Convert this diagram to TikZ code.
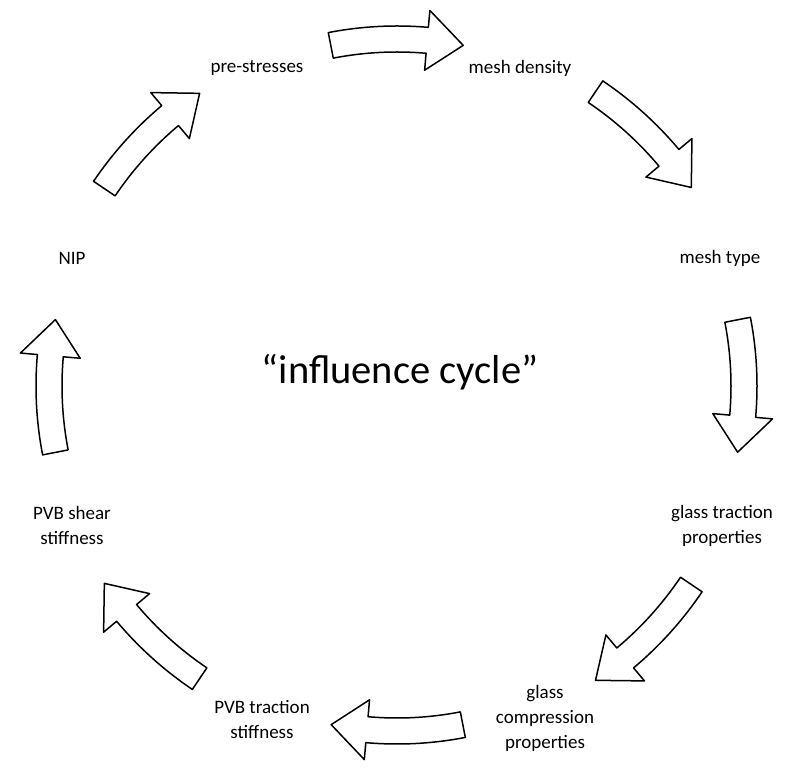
\documentclass[tikz,border=0pt]{standalone}
\usepackage{fontspec}
\setmainfont{Carlito}
\usetikzlibrary{calc}

% ring of block arrows: shaft and head half widths, head length (deg)
\def\wshaft{13}
\def\whead{30}
\def\lhead{6}

% #1 = tail angle, #2 = tip angle (clockwise), #3 = mid radius
\newcommand{\cyclearrow}[3]{%
	\draw[blockarrow] ($(cen)+(#1:#3+\wshaft)$)
		arc[start angle=#1, end angle=#2+\lhead, radius=#3+\wshaft]
		-- ($(cen)+(#2+\lhead:#3+\whead)$)
		-- ($(cen)+(#2:#3)$)
		-- ($(cen)+(#2+\lhead:#3-\whead)$)
		-- ($(cen)+(#2+\lhead:#3-\wshaft)$)
		arc[start angle=#2+\lhead, end angle=#1, radius=#3-\wshaft]
		-- cycle;}

\begin{document}
\begin{tikzpicture}[x=1pt, y=1pt,
		blockarrow/.style={draw=black, fill=white, line width=1.5, line join=round},
		lbl/.style={align=center, inner sep=0, font=\fontsize{19}{25}\selectfont},
	]
	\useasboundingbox (0,0) rectangle (795,768);

	\coordinate (cen) at (397,382);

	\node[font=\fontsize{40.5}{48}\selectfont] (title) at (400,396) {“influence cycle”};

	\node[lbl] (l0) at (257,700) {pre-stresses};
	\node[lbl] (l1) at (520,700) {mesh density};
	\node[lbl] (l2) at (720,510) {mesh type};
	\node[lbl] (l3) at (722,242) {glass traction\\ properties};
	\node[lbl] (l4) at (545,50) {glass\\ compression\\ properties};
	\node[lbl] (l5) at (262,48) {PVB traction\\ stiffness};
	\node[lbl] (l6) at (72,243) {PVB shear\\ stiffness};
	\node[lbl] (l7) at (72,510) {NIP};

	\foreach \a/\r in {90/347,45/355,0/347,-45/355,-90/345,-135/353,-180/348,-225/353} {
		\cyclearrow{\a+11}{\a-11}{\r}
	}
\end{tikzpicture}
\end{document}
